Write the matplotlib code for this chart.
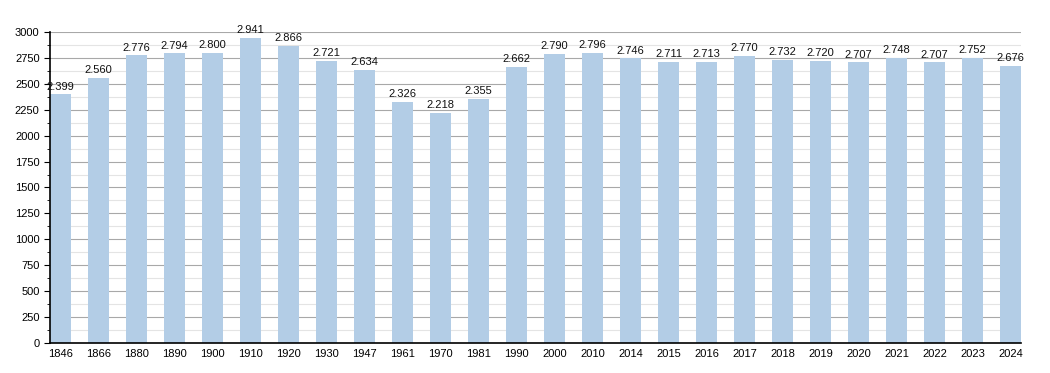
import matplotlib
matplotlib.use("Agg")
import matplotlib.pyplot as plt
from matplotlib.ticker import MultipleLocator

years = ["1846", "1866", "1880", "1890", "1900", "1910", "1920", "1930", "1947",
         "1961", "1970", "1981", "1990", "2000", "2010", "2014", "2015", "2016",
         "2017", "2018", "2019", "2020", "2021", "2022", "2023", "2024"]
population = [2399, 2560, 2776, 2794, 2800, 2941, 2866, 2721, 2634,
              2326, 2218, 2355, 2662, 2790, 2796, 2746, 2711, 2713,
              2770, 2732, 2720, 2707, 2748, 2707, 2752, 2676]

plt.rcParams["font.family"] = ["Liberation Sans", "DejaVu Sans"]

fig = plt.figure(figsize=(10.5, 3.73), dpi=100)
ax = fig.add_axes([0.0476, 0.0804, 0.9248, 0.834])

width = 0.55
x = range(len(years))
ax.bar(x, population, width=width, color="#b3cde6", zorder=2)

# value labels with dot as thousands separator
for xi, v in zip(x, population):
    label = f"{v:,}".replace(",", ".")
    ax.text(xi, v + 25, label, ha="center", va="bottom", fontsize=8, color="#111111", zorder=3)

ax.set_xlim(-width / 2, len(years) - 1 + width / 2)
ax.set_ylim(0, 3000)
ax.set_xticks(list(x))
ax.set_xticklabels(years, fontsize=8)
ax.tick_params(axis="x", length=0, pad=4)

ax.yaxis.set_major_locator(MultipleLocator(250))
ax.yaxis.set_minor_locator(MultipleLocator(125))
ax.tick_params(axis="y", which="major", labelsize=8, length=4, direction="out")
ax.tick_params(axis="y", which="minor", length=2.5, direction="out")

ax.grid(axis="y", which="major", color="#a8a8a8", linewidth=0.8, zorder=0)
ax.grid(axis="y", which="minor", color="#e4e4e4", linewidth=0.8, zorder=0)
ax.set_axisbelow(True)

for side in ["top", "right"]:
    ax.spines[side].set_visible(False)
ax.spines["left"].set_linewidth(1.2)
ax.spines["bottom"].set_linewidth(1.2)

fig.savefig("out.png", dpi=100)
